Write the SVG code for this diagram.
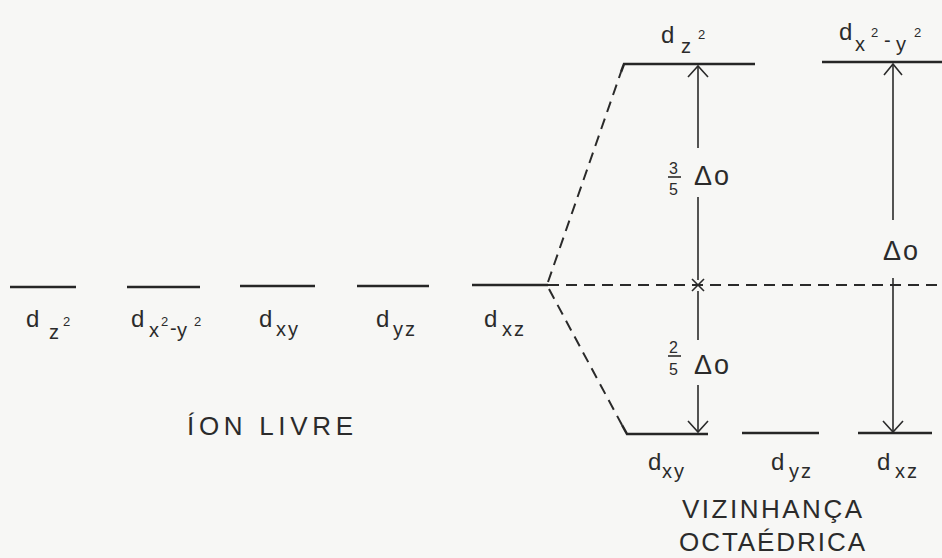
<svg xmlns="http://www.w3.org/2000/svg" width="942" height="558" viewBox="0 0 942 558">
<style>
.lvl{stroke:#262626;stroke-width:2.5;fill:none}
.dash{stroke:#2a2a2a;stroke-width:2;fill:none;stroke-dasharray:11 7}
.arr{stroke:#2a2a2a;stroke-width:1.6;fill:none}
text{font-family:"Liberation Sans","DejaVu Sans",Arial,sans-serif;fill:#2b2b2b}
.d{font-size:24px}
.sub{font-size:20px;letter-spacing:2px}
.sup{font-size:13px}
.cap{font-size:26px}
.frac{font-size:16px}
.delta{font-size:27px;letter-spacing:2px}
</style>
<rect width="942" height="558" fill="#f7f7f5"/>

<g id="connectors">
  <line class="dash" x1="548" y1="285" x2="942" y2="285"/>
  <line class="dash" x1="548" y1="282" x2="621" y2="72"/>
  <line class="dash" x1="549" y1="289" x2="622" y2="425"/>
  <line class="arr" x1="698" y1="66" x2="698" y2="148"/>
  <line class="arr" x1="698" y1="197" x2="698" y2="280"/>
  <polyline class="arr" points="688,77 698,66 708,77"/>
  <line class="arr" x1="692" y1="279" x2="704" y2="291"/>
  <line class="arr" x1="692" y1="291" x2="704" y2="279"/>
  <line class="arr" x1="698" y1="291" x2="698" y2="340"/>
  <line class="arr" x1="698" y1="385" x2="698" y2="432"/>
  <polyline class="arr" points="688,421 698,432 708,421"/>
  <line class="arr" x1="893" y1="64" x2="893" y2="220"/>
  <line class="arr" x1="893" y1="278" x2="893" y2="432"/>
  <polyline class="arr" points="884,75 893,64 902,75"/>
  <polyline class="arr" points="883,421 893,432 903,421"/>
</g>

<g id="free-dz2">
  <line class="lvl" x1="10" y1="287" x2="76" y2="287"/>
  <text class="d" x="26" y="327">d</text>
  <text class="sub" x="49" y="339">z</text>
  <text class="sup" x="63" y="326">2</text>
</g>
<g id="free-dx2y2">
  <line class="lvl" x1="127" y1="287" x2="200" y2="287"/>
  <text class="d" x="131" y="327">d</text>
  <text class="sub" x="149" y="337">x</text>
  <text class="sup" x="161" y="326">2</text>
  <text class="sub" x="170" y="335">-</text>
  <text class="sub" x="177" y="337">y</text>
  <text class="sup" x="194" y="326">2</text>
</g>
<g id="free-dxy">
  <line class="lvl" x1="240" y1="286" x2="315" y2="286"/>
  <text class="d" x="259" y="327">d</text>
  <text class="sub" x="276" y="336">xy</text>
</g>
<g id="free-dyz">
  <line class="lvl" x1="357" y1="286" x2="429" y2="286"/>
  <text class="d" x="376" y="327">d</text>
  <text class="sub" x="393" y="336">yz</text>
</g>
<g id="free-dxz">
  <line class="lvl" x1="472" y1="285" x2="548" y2="285"/>
  <text class="d" x="484" y="327">d</text>
  <text class="sub" x="502" y="336">xz</text>
</g>
<g id="ion-livre">
  <text class="cap" x="187" y="435" textLength="166" lengthAdjust="spacing">ÍON  LIVRE</text>
</g>

<g id="oct-dz2">
  <polyline class="lvl" points="621,72 624,64 755,64"/>
  <text class="d" x="661" y="43">d</text>
  <text class="sub" x="681" y="53">z</text>
  <text class="sup" x="698" y="39">2</text>
</g>
<g id="oct-dx2y2">
  <line class="lvl" x1="822" y1="62" x2="942" y2="62"/>
  <text class="d" x="839" y="40">d</text>
  <text class="sub" x="855" y="51">x</text>
  <text class="sup" x="871" y="37">2</text>
  <text class="sub" x="884" y="47">-</text>
  <text class="sub" x="896" y="51">y</text>
  <text class="sup" x="914" y="37">2</text>
</g>
<g id="oct-dxy">
  <polyline class="lvl" points="622,425 627,434 708,434"/>
  <text class="d" x="648" y="470">d</text>
  <text class="sub" x="662" y="478">xy</text>
</g>
<g id="oct-dyz">
  <line class="lvl" x1="742" y1="433" x2="819" y2="433"/>
  <text class="d" x="771" y="470">d</text>
  <text class="sub" x="789" y="478">yz</text>
</g>
<g id="oct-dxz">
  <line class="lvl" x1="858" y1="433" x2="932" y2="433"/>
  <text class="d" x="877" y="470">d</text>
  <text class="sub" x="895" y="478">xz</text>
</g>

<g id="label-35">
  <text class="frac" x="669" y="174">3</text>
  <line class="arr" x1="668" y1="177" x2="681" y2="177" stroke-width="1.3"/>
  <text class="frac" x="669" y="195">5</text>
  <text class="delta" x="694" y="185">Δo</text>
</g>
<g id="label-25">
  <text class="frac" x="669" y="353">2</text>
  <line class="arr" x1="668" y1="356" x2="681" y2="356" stroke-width="1.3"/>
  <text class="frac" x="669" y="375">5</text>
  <text class="delta" x="694" y="374">Δo</text>
</g>
<g id="label-delta">
  <text class="delta" x="883" y="260">Δo</text>
</g>

<g id="vizinhanca">
  <text class="cap" x="682" y="518" textLength="180" lengthAdjust="spacing">VIZINHANÇA</text>
  <text class="cap" x="679" y="551" textLength="186" lengthAdjust="spacing">OCTAÉDRICA</text>
</g>
</svg>
